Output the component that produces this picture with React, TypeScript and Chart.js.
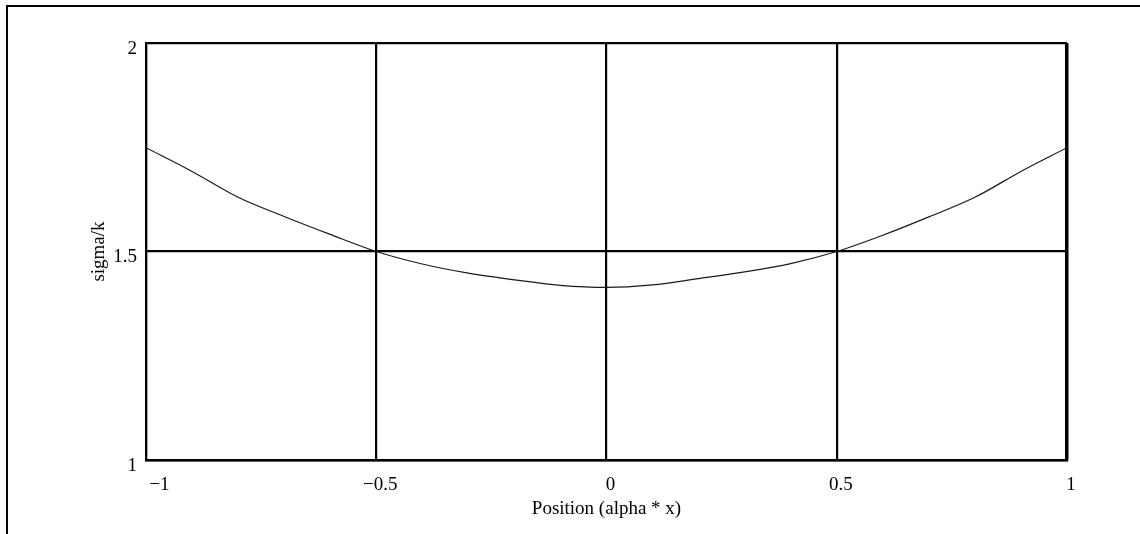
import React, { useEffect, useRef } from "react";
import { Chart, registerables } from "chart.js";

Chart.register(...registerables);

const positions = [-1, -0.9, -0.8, -0.7, -0.6, -0.5, -0.4, -0.3, -0.2, -0.1, 0, 0.1, 0.2, 0.3, 0.4, 0.5, 0.6, 0.7, 0.8, 0.9, 1];
const sigmaOverK = [1.749, 1.692, 1.630, 1.584, 1.541, 1.500, 1.470, 1.448, 1.432, 1.419, 1.414, 1.420, 1.435, 1.451, 1.471, 1.500, 1.539, 1.583, 1.630, 1.692, 1.749];
const xTickValues = [-1, -0.5, 0, 0.5, 1];
const yTickValues = [1, 1.5, 2];
const xTitle = "Position (alpha * x)";
const yTitle = "sigma/k";

const FONT = "'Liberation Serif', 'Times New Roman', serif";

function fmt(v: number): string {
  const s = String(Math.abs(v));
  return v < 0 ? "\u2212" + s : s;
}

export default function App() {
  const ref = useRef<HTMLCanvasElement | null>(null);

  useEffect(() => {
    if (!ref.current) return;
    const chart = new Chart(ref.current, {
      type: "line",
      data: {
        datasets: [
          {
            data: positions.map((x, i) => ({ x, y: sigmaOverK[i] })),
            borderColor: "#1a1a1a",
            borderWidth: 1.2,
            pointRadius: 0,
            cubicInterpolationMode: "monotone",
            fill: false,
          },
        ],
      },
      options: {
        responsive: false,
        animation: false,
        events: [],
        layout: { padding: { left: 0, top: 43, right: 73, bottom: 0 } },
        plugins: { legend: { display: false }, tooltip: { enabled: false } },
        scales: {
          x: {
            type: "linear",
            min: -1,
            max: 1,
            afterFit: (s: any) => {
              s.height = 74;
            },
            afterBuildTicks: (s: any) => {
              s.ticks = xTickValues.map((v) => ({ value: v }));
            },
            ticks: {
              color: "#000",
              font: { family: FONT, size: 19 },
              padding: 14,
              labelOffset: 4,
              maxRotation: 0,
              autoSkip: false,
              callback: (v: any) => (Number(v) === -1 ? "    " + fmt(Number(v)) : fmt(Number(v))),
            },
            grid: {
              color: "#000",
              lineWidth: (c: any) => (c.tick && c.tick.value === 1 ? 3.5 : 2.2),
              drawTicks: false,
            },
            border: { color: "#000", width: 2.5 },
            title: {
              display: true,
              text: xTitle,
              color: "#000",
              font: { family: FONT, size: 19 },
              padding: { top: 0, bottom: 14 },
            },
          },
          y: {
            type: "linear",
            min: 1,
            max: 2,
            afterFit: (s: any) => {
              s.width = 146;
            },
            afterBuildTicks: (s: any) => {
              s.ticks = yTickValues.map((v) => ({ value: v }));
            },
            ticks: {
              color: "#000",
              font: { family: FONT, size: 19 },
              padding: 9,
              labelOffset: 6,
              callback: (v: any) => fmt(Number(v)),
            },
            grid: {
              color: "#000",
              lineWidth: 2.2,
              drawTicks: false,
            },
            border: { color: "#000", width: 2.2 },
            title: {
              display: true,
              text: yTitle,
              color: "#000",
              font: { family: FONT, size: 19 },
              padding: { top: 88, bottom: 0 },
            },
          },
        },
      },
    });
    return () => chart.destroy();
  }, []);

  return (
    <div>
      <canvas
        ref={ref}
        width={1140}
        height={534}
        style={{ position: "fixed", left: 0, top: 0, width: 1140, height: 534 }}
      />
      <div style={{ position: "fixed", left: 6, top: 5, width: 1134, height: 2, background: "#000" }} />
      <div style={{ position: "fixed", left: 6, top: 5, width: 2, height: 529, background: "#000" }} />
    </div>
  );
}
